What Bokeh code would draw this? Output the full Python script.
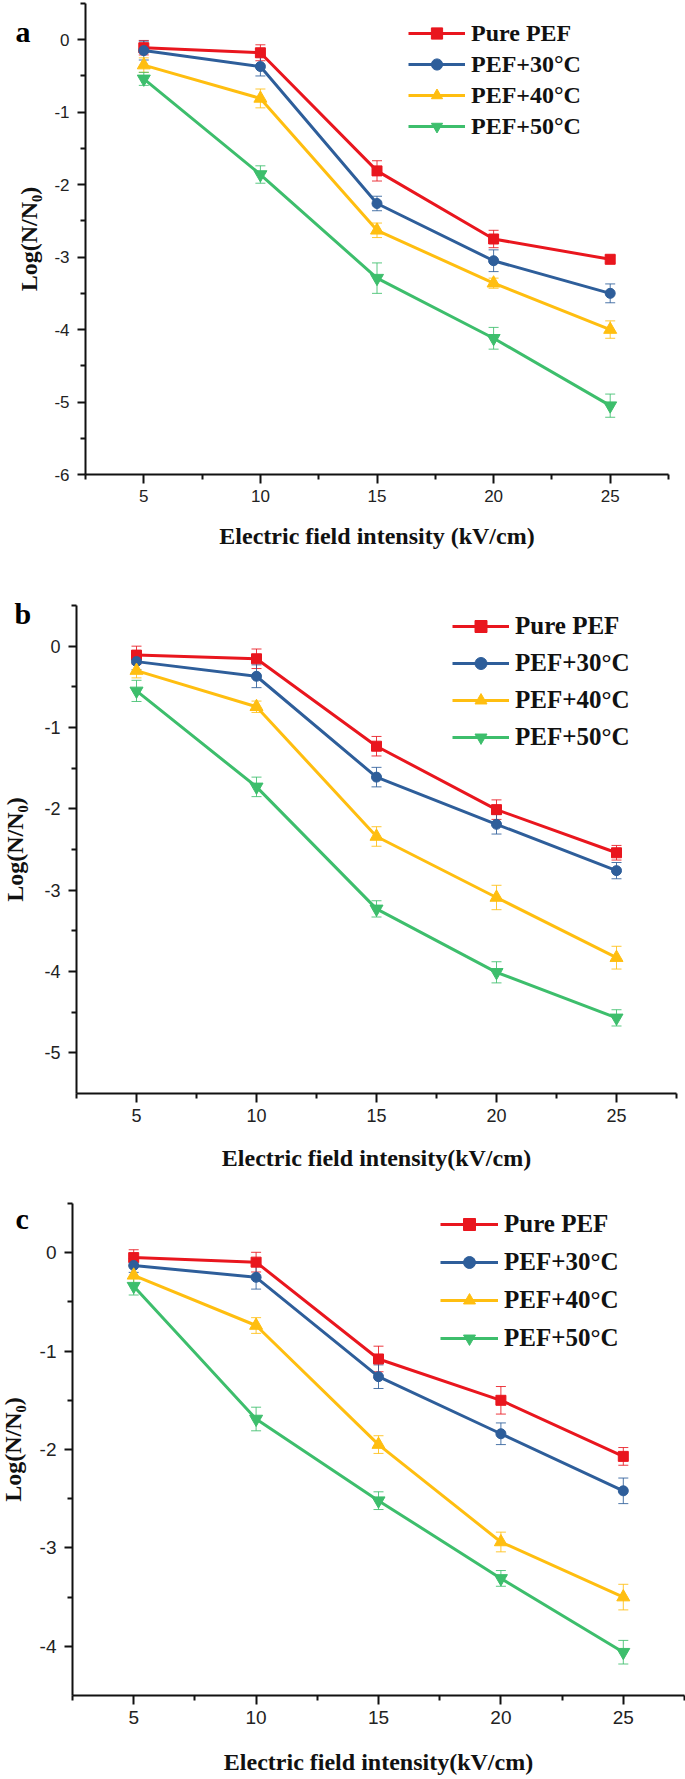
from bokeh.plotting import figure
from bokeh.models import (ColumnDataSource, Whisker, TeeHead, Legend, LegendItem,
                          Label, FixedTicker, Range1d)
from bokeh.layouts import column
from bokeh.embed import file_html
from bokeh.resources import INLINE

# ---------------- data ----------------
field_kv = [5, 10, 15, 20, 25]
series_names = ["Pure PEF", "PEF+30°C", "PEF+40°C", "PEF+50°C"]

# panel a
a_pure = [-0.11, -0.18, -1.81, -2.75, -3.03]
a_pure_err = [0.10, 0.11, 0.14, 0.12, 0.05]
a_p30 = [-0.15, -0.37, -2.26, -3.05, -3.50]
a_p30_err = [0.13, 0.13, 0.10, 0.15, 0.13]
a_p40 = [-0.35, -0.81, -2.63, -3.36, -4.00]
a_p40_err = [0.10, 0.13, 0.10, 0.07, 0.12]
a_p50 = [-0.54, -1.86, -3.29, -4.12, -5.05]
a_p50_err = [0.09, 0.12, 0.21, 0.15, 0.16]

# panel b
b_pure = [-0.11, -0.155, -1.23, -2.01, -2.54]
b_pure_err = [0.11, 0.12, 0.12, 0.12, 0.09]
b_p30 = [-0.19, -0.37, -1.61, -2.19, -2.76]
b_p30_err = [0.10, 0.14, 0.12, 0.12, 0.10]
b_p40 = [-0.30, -0.745, -2.34, -3.09, -3.83]
b_p40_err = [0.09, 0.07, 0.12, 0.15, 0.14]
b_p50 = [-0.55, -1.73, -3.23, -4.01, -4.57]
b_p50_err = [0.13, 0.12, 0.10, 0.13, 0.10]

# panel c
c_pure = [-0.05, -0.096, -1.08, -1.50, -2.07]
c_pure_err = [0.08, 0.10, 0.13, 0.14, 0.09]
c_p30 = [-0.13, -0.25, -1.26, -1.84, -2.42]
c_p30_err = [0.07, 0.12, 0.12, 0.11, 0.13]
c_p40 = [-0.23, -0.74, -1.95, -2.94, -3.50]
c_p40_err = [0.09, 0.08, 0.09, 0.10, 0.13]
c_p50 = [-0.34, -1.69, -2.52, -3.31, -4.06]
c_p50_err = [0.09, 0.12, 0.09, 0.08, 0.12]

x_limits = [2.5, 27.5]
x_ticks = [5, 10, 15, 20, 25]
x_tick_labels = ["5", "10", "15", "20", "25"]
x_minor = [2.5, 7.5, 12.5, 17.5, 22.5, 27.5]
a_y_limits = [-6, 0.5]
a_y_ticks = [-6, -5, -4, -3, -2, -1, 0]
a_y_labels = ["-6", "-5", "-4", "-3", "-2", "-1", "0"]
b_y_limits = [-5.5, 0.5]
b_y_ticks = [-5, -4, -3, -2, -1, 0]
b_y_labels = ["-5", "-4", "-3", "-2", "-1", "0"]
c_y_limits = [-4.5, 0.5]
c_y_ticks = [-4, -3, -2, -1, 0]
c_y_labels = ["-4", "-3", "-2", "-1", "0"]

y_label = "Log(N/N\u2080)"
x_label_a = "Electric field intensity (kV/cm)"
x_label_bc = "Electric field intensity(kV/cm)"

# ---------------- style ----------------
colors = ["#E9161E", "#2E5E9A", "#FFBE10", "#3DBE6C"]
markers = ["square", "circle", "triangle", "inverted_triangle"]
marker_sizes = [10, 10, 13, 13]
SERIF = "Liberation Serif"
SANS = "Liberation Sans"
W = 685


def make_panel(letter, series, errs, ylim, yticks, ylabels, xlabel, cfg):
    H = cfg["height"]
    L, R, T, B = cfg["box"]          # axes box inside the canvas (px)
    xppu = (R - L) / (x_limits[1] - x_limits[0])
    yppu = (B - T) / (ylim[1] - ylim[0])
    xr = Range1d(x_limits[0] - L / xppu, x_limits[1] + (W - R) / xppu)
    yr = Range1d(ylim[0] - (H - B) / yppu, ylim[1] + T / yppu)

    p = figure(width=W, height=H, output_backend="svg",
               toolbar_location=None, x_range=xr, y_range=yr,
               min_border_left=0, min_border_right=0,
               min_border_top=0, min_border_bottom=0)
    p.outline_line_color = None
    p.grid.visible = False
    p.background_fill_color = "white"
    p.border_fill_color = "white"

    items = []
    for name, ys, es, col, mk, ms in zip(series_names, series, errs, colors,
                                         markers, marker_sizes):
        src = ColumnDataSource(dict(
            x=field_kv, y=ys,
            upper=[v + e for v, e in zip(ys, es)],
            lower=[v - e for v, e in zip(ys, es)]))
        w = Whisker(source=src, base="x", upper="upper", lower="lower",
                    line_color=col, line_width=1, line_alpha=0.85,
                    upper_head=TeeHead(size=10, line_color=col, line_width=1, line_alpha=0.85),
                    lower_head=TeeHead(size=10, line_color=col, line_width=1, line_alpha=0.85))
        p.add_layout(w)
        lr = p.line("x", "y", source=src, line_color=col, line_width=3)
        sr = p.scatter("x", "y", source=src, marker=mk, size=ms,
                       fill_color=col, line_color=col)
        items.append(LegendItem(label=name, renderers=[lr, sr]))

    lg = Legend(items=items, location=(cfg["lx"], H - cfg["lb"]),
                glyph_width=cfg["gw"], glyph_height=cfg["gh"],
                label_height=cfg["gh"], spacing=cfg["sp"], padding=0, margin=0,
                label_standoff=6, border_line_color=None,
                background_fill_alpha=0,
                label_text_font=SERIF, label_text_font_style="bold",
                label_text_font_size=cfg["lfs"], label_text_color="#111111")
    p.add_layout(lg)

    for ax in (p.xaxis[0], p.yaxis[0]):
        ax.axis_line_width = 2
        ax.axis_line_color = "#111111"
        ax.major_tick_line_width = 2
        ax.minor_tick_line_width = 2
        ax.major_tick_line_color = "#111111"
        ax.minor_tick_line_color = "#111111"
        ax.major_tick_in = 0
        ax.minor_tick_in = 0
        ax.minor_tick_out = 5
        ax.major_label_text_font = SANS
        ax.major_label_text_font_size = cfg["tfs"]
        ax.major_label_text_color = "#222222"
        ax.axis_label_text_font = SERIF
        ax.axis_label_text_font_style = "bold"
        ax.axis_label_text_color = "#111111"

    xa = p.xaxis[0]
    xa.fixed_location = ylim[0]
    xa.bounds = (x_limits[0], x_limits[1])
    xa.ticker = FixedTicker(ticks=x_ticks, minor_ticks=x_minor)
    xa.major_label_overrides = dict(zip(x_ticks, x_tick_labels))
    xa.major_tick_out = 9
    xa.major_label_standoff = 6
    xa.axis_label = xlabel
    xa.axis_label_text_font_size = "24px"
    xa.axis_label_standoff = cfg["xls"]

    ya = p.yaxis[0]
    ya.fixed_location = x_limits[0]
    ya.bounds = (ylim[0], ylim[1])
    ya.ticker = FixedTicker(ticks=yticks,
                            minor_ticks=[t + 0.5 for t in yticks])
    ya.major_label_overrides = dict(zip(yticks, ylabels))
    ya.major_tick_out = 8
    ya.major_label_standoff = 8
    ya.axis_label = y_label
    ya.axis_label_text_font_size = "24px"
    ya.axis_label_standoff = cfg["yls"]

    p.add_layout(Label(x=cfg["tx"], y=H - cfg["ty"], x_units="screen",
                       y_units="screen", text=letter, text_font=SERIF,
                       text_font_style="bold", text_font_size="30px",
                       text_baseline="alphabetic", text_align="left",
                       text_color="#000000"))
    return p


cfg_a = dict(height=560, box=(85, 668, 3, 474),
             lx=408, lb=140, gw=57, gh=28, sp=3, lfs="24px", tfs="17px",
             xls=18, yls=9, tx=15, ty=31)
cfg_b = dict(height=620, box=(76, 676, 45, 533),
             lx=452, lb=192, gw=57, gh=30, sp=7, lfs="25px", tfs="18px",
             xls=20, yls=13, tx=14, ty=53)
cfg_c = dict(height=599, box=(72, 684, 23, 515),
             lx=440, lb=173, gw=58, gh=30, sp=8, lfs="25px", tfs="19px",
             xls=22, yls=11, tx=15, ty=38)

pa = make_panel("a", [a_pure, a_p30, a_p40, a_p50],
                [a_pure_err, a_p30_err, a_p40_err, a_p50_err],
                a_y_limits, a_y_ticks, a_y_labels, x_label_a, cfg_a)
pb = make_panel("b", [b_pure, b_p30, b_p40, b_p50],
                [b_pure_err, b_p30_err, b_p40_err, b_p50_err],
                b_y_limits, b_y_ticks, b_y_labels, x_label_bc, cfg_b)
pc = make_panel("c", [c_pure, c_p30, c_p40, c_p50],
                [c_pure_err, c_p30_err, c_p40_err, c_p50_err],
                c_y_limits, c_y_ticks, c_y_labels, x_label_bc, cfg_c)

layout = column(pa, pb, pc, spacing=0)
open("out.html", "w").write(file_html(layout, INLINE))
